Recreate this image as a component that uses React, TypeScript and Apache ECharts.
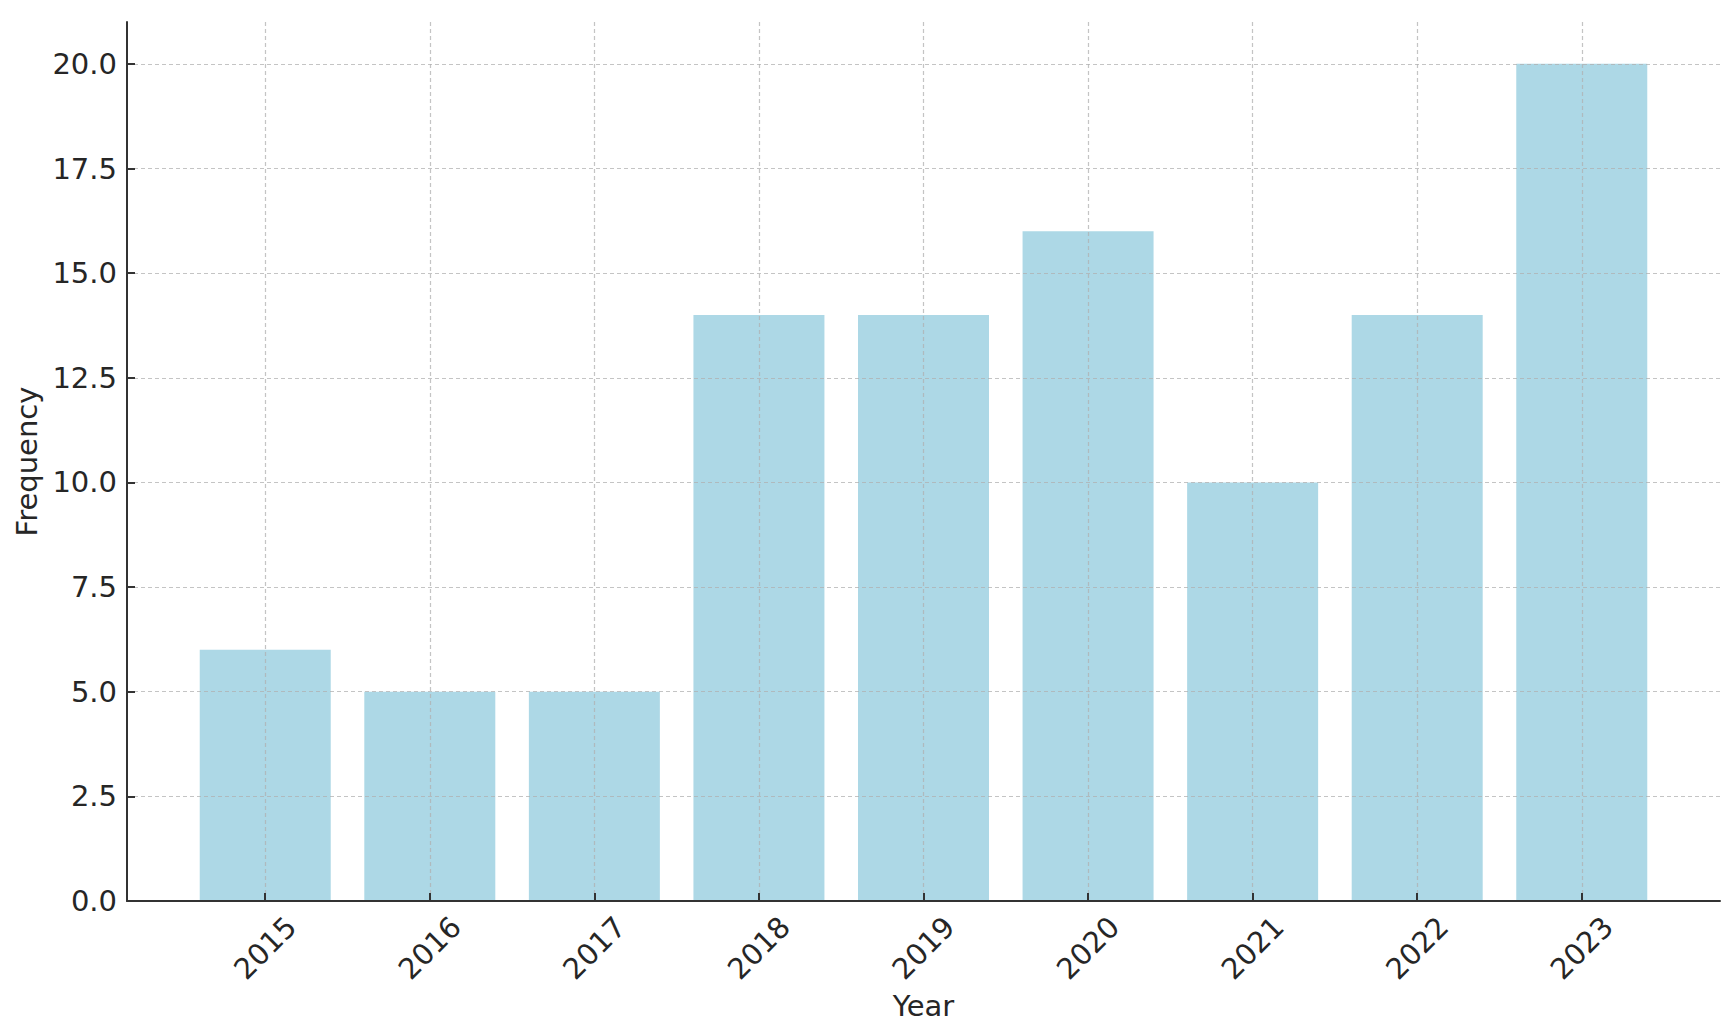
import React, { useEffect, useRef } from "react";
import * as echarts from "echarts";

const years = ["2015", "2016", "2017", "2018", "2019", "2020", "2021", "2022", "2023"];
const frequency = [6, 5, 5, 14, 14, 16, 10, 14, 20];
const yTicks = [0, 2.5, 5, 7.5, 10, 12.5, 15, 17.5, 20];
const xPositions = years.map((_, i) => i);

const FONT = "DejaVu Sans";
const TEXT = "#262626";
const FS = 29;
const GRIDLINE = {
  show: true,
  lineStyle: { color: "rgba(176,176,176,0.75)", width: 1.2, type: [4, 3] as any },
};

export default function App() {
  const ref = useRef<HTMLDivElement>(null);
  useEffect(() => {
    if (!ref.current) return;
    const chart = echarts.init(ref.current, undefined, { renderer: "svg" });
    chart.setOption({
      animation: false,
      textStyle: { fontFamily: FONT },
      grid: { left: 119, top: 14, right: 6, bottom: 125, containLabel: false, outerBoundsMode: "none" },
      xAxis: {
        type: "value",
        min: -0.84,
        max: 8.84,
        z: 5,
        name: "Year",
        nameLocation: "middle",
        nameGap: 105,
        nameTextStyle: { fontSize: FS, color: TEXT, fontFamily: FONT, align: "center", verticalAlign: "middle" },
        axisLine: { show: true, onZero: false, lineStyle: { color: "#333", width: 2 } },
        axisTick: { show: true, inside: true, length: 8, customValues: xPositions, lineStyle: { color: "#333", width: 2 } },
        axisLabel: {
          customValues: xPositions,
          rotate: 45,
          margin: 47,
          align: "center",
          verticalAlign: "middle",
          fontSize: FS,
          color: TEXT,
          fontFamily: FONT,
          formatter: (v: number) => years[Math.round(v)] ?? "",
        },
        splitLine: GRIDLINE,
      },
      yAxis: {
        type: "value",
        min: 0,
        max: 21,
        z: 5,
        name: "Frequency",
        nameLocation: "middle",
        nameGap: 90,
        nameTextStyle: { fontSize: FS, color: TEXT, fontFamily: FONT, align: "center", verticalAlign: "middle" },
        axisLine: { show: true, onZero: false, lineStyle: { color: "#333", width: 2 } },
        axisTick: { show: true, inside: true, length: 8, customValues: yTicks, lineStyle: { color: "#333", width: 2 } },
        axisLabel: {
          customValues: yTicks,
          margin: 10,
          fontSize: FS,
          color: TEXT,
          fontFamily: FONT,
          formatter: (v: number) => v.toFixed(1),
        },
        splitLine: GRIDLINE,
      },
      series: [
        {
          type: "bar",
          data: frequency.map((f, i) => [xPositions[i], f]),
          barWidth: 131,
          itemStyle: { color: "#ADD8E6" },
        },
      ],
    });
    return () => chart.dispose();
  }, []);
  return <div ref={ref} style={{ width: 1718, height: 1018 }} />;
}
